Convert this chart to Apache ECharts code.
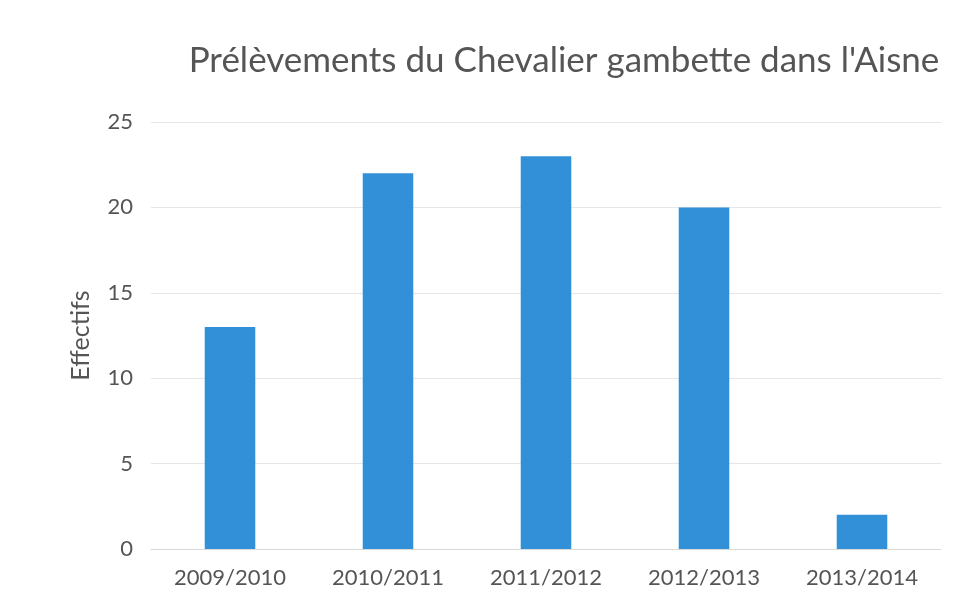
<!DOCTYPE html>
<html>
<head>
<meta charset="utf-8">
<script src="https://cdn.jsdelivr.net/npm/echarts@6/dist/echarts.min.js"></script>
<style>
  html, body { margin: 0; padding: 0; background: #fff; }
  #chart { width: 957px; height: 607px; }
</style>
</head>
<body>
<div id="chart"></div>
<script>
const seasons = ['2009/2010', '2010/2011', '2011/2012', '2012/2013', '2013/2014']
const effectifs = [13, 22, 23, 20, 2]

const chart = echarts.init(document.getElementById('chart'))

chart.setOption({
  backgroundColor: '#fff',
  textStyle: { fontFamily: 'Lato, "Open Sans", sans-serif' },
  title: {
    text: "Prélèvements du Chevalier gambette dans l'Aisne",
    left: 559,
    top: 38,
    textAlign: 'center',
    textStyle: { fontSize: 35, fontWeight: 'normal', color: '#555', fontFamily: 'Lato, sans-serif' }
  },
  grid: { left: 151, right: 16, top: 122, bottom: 58, containLabel: false },
  xAxis: {
    type: 'category',
    data: seasons,
    axisTick: { show: false },
    axisLine: { lineStyle: { color: '#d9d9d9' } },
    axisLabel: { color: '#555', fontSize: 22, margin: 18 }
  },
  yAxis: {
    type: 'value',
    min: 0,
    max: 25,
    interval: 5,
    name: 'Effectifs',
    nameLocation: 'middle',
    nameGap: 58,
    nameTextStyle: { color: '#555', fontSize: 25 },
    axisLine: { show: false },
    axisTick: { show: false },
    axisLabel: { color: '#555', fontSize: 22, margin: 18 },
    splitLine: { lineStyle: { color: '#e6e6e6' } }
  },
  series: [{
    type: 'bar',
    data: effectifs,
    barWidth: '32%',
    itemStyle: { color: '#3190d8' }
  }]
})
</script>
</body>
</html>
